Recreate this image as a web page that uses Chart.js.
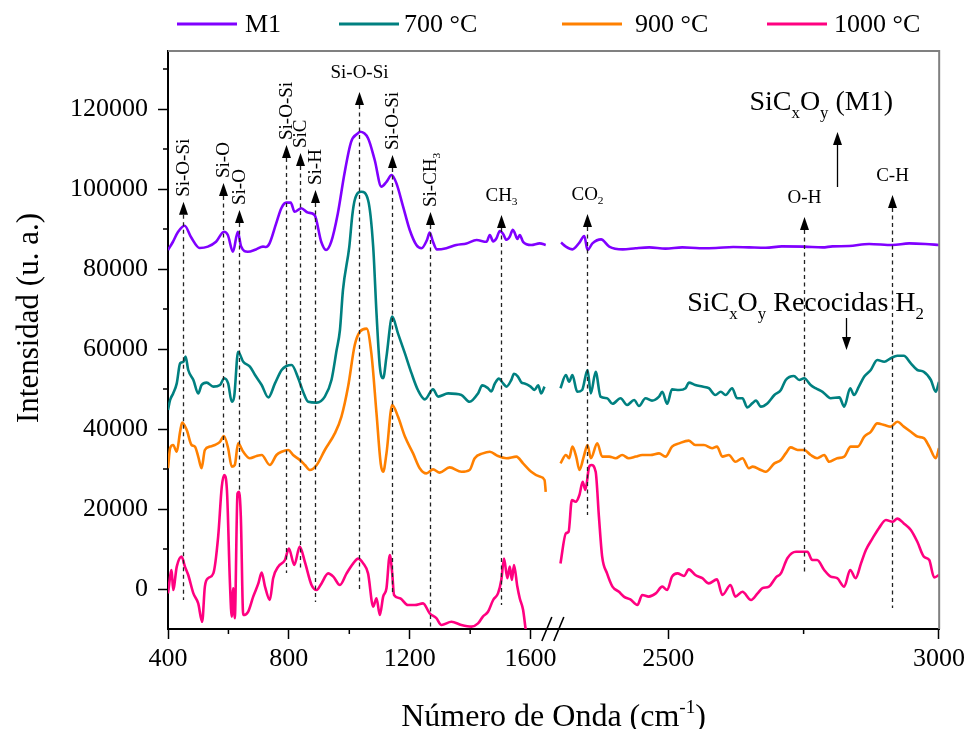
<!DOCTYPE html>
<html>
<head>
<meta charset="utf-8">
<title>FTIR SiCxOy</title>
<script src="https://cdn.jsdelivr.net/npm/chart.js@4.4.1/dist/chart.umd.min.js"></script>
<style>
  html, body { margin: 0; padding: 0; background: #fff; }
  canvas { display: block; }
</style>
</head>
<body>
<canvas id="chart" width="970" height="729"></canvas>
<script>
const SERIF = "'Liberation Serif', 'Times New Roman', serif";

// --- data (wavenumber in cm-1, intensity in a.u.) ---
const seriesNames = ['M1', '700 °C', '900 °C', '1000 °C'];
const seriesColors = ['#8000ff', '#008080', '#ff8000', '#ff0080'];

const m1WnLeft = [400,416,433,455,476,505,532,559,585,598,615,631,642,664,691,714,724,736,758,775,791,806,819,841,863,885,907,923,940,962,984,1006,1028,1035,1062,1084,1106,1123,1140,1156,1178,1200,1222,1239,1257,1266,1277,1290,1321,1354,1388,1421,1454,1465,1476,1487,1498,1509,1520,1531,1541,1547,1556,1564,1575,1602,1630,1650];
const m1Left = [84750,86750,89250,90800,88000,85250,85600,86800,89300,88500,84300,89300,85600,84300,84900,85600,85500,86400,91400,95200,96600,96600,94300,95200,94100,93500,86800,84750,86800,93900,103900,111800,113900,114300,112700,107250,100600,101800,103500,101400,95600,89750,86000,85200,87250,89100,86800,84900,85200,86000,86400,87250,86800,88500,86900,87700,89500,88750,87300,88100,89800,89100,87500,88500,86800,86000,86400,86000];
const m1WnRight = [2302,2311,2323,2336,2345,2351,2360,2376,2391,2416,2440,2465,2495,2526,2558,2588,2620,2649,2680,2710,2751,2785,2803,2834,2871,2914,2945,2975,3000];
const m1Right = [86600,85600,84900,86600,88250,84750,86400,87400,85600,84900,85200,85400,85100,85400,85200,85250,85500,85400,85300,85650,85600,85400,85650,85750,86250,86000,86400,86250,86000];

const t700WnLeft = [400,407,417,429,440,451,458,467,484,500,511,528,550,572,586,599,611,619,632,649,671,688,710,732,754,776,792,809,831,847,864,892,919,941,958,969,979,1000,1010,1018,1040,1062,1079,1090,1101,1112,1123,1142,1161,1184,1206,1227,1250,1277,1294,1327,1371,1398,1426,1440,1459,1470,1481,1495,1509,1520,1536,1545,1558,1570,1580,1600,1613,1625,1635,1646];
const t700Left = [44750,47250,48900,51400,56400,56800,58100,54750,52250,48900,51000,51600,50600,51000,52700,51400,46800,48100,59300,56800,55600,53500,51000,47900,51400,54750,55750,56000,52700,49300,46800,46600,48100,52250,59750,64750,74750,85600,93500,97250,99300,97250,85600,68900,55600,52700,58100,68100,63900,58900,53900,49750,47400,49900,48100,48900,48500,46800,48900,50900,50200,49400,51250,52600,51400,50600,52250,53800,53100,51600,51400,50600,49750,50900,48900,50600];
const t700WnRight = [2301,2311,2317,2323,2332,2341,2351,2357,2366,2375,2387,2397,2412,2424,2437,2446,2458,2470,2483,2489,2498,2507,2520,2532,2538,2550,2563,2575,2587,2597,2606,2618,2627,2637,2646,2655,2662,2671,2683,2696,2708,2717,2732,2742,2751,2763,2772,2785,2800,2816,2825,2836,2843,2852,2862,2874,2886,2899,2911,2923,2935,2948,2960,2972,2985,2994,3000];
const t700Right = [50200,53500,51800,53500,49300,49750,54750,48900,54300,48100,47700,46300,47700,46000,47250,45750,47700,47100,48100,49300,46300,49900,49750,50200,51600,51000,50600,50200,48500,49300,48500,50200,47700,47700,45400,46400,47100,45600,46400,48500,49750,52250,53250,52250,52700,51000,50200,49300,47700,47900,45600,50200,48500,50600,53100,54750,57250,56800,57700,58300,58300,56400,54750,54300,52250,49300,51800];

const t900WnLeft = [400,407,417,429,440,447,462,478,489,500,511,522,539,555,572,585,599,611,621,632,649,671,693,710,737,759,776,798,814,836,853,869,892,919,952,974,996,1018,1035,1057,1073,1090,1104,1112,1123,1142,1161,1184,1211,1233,1255,1277,1299,1332,1371,1398,1415,1442,1465,1492,1520,1553,1575,1602,1630,1646,1650];
const t900Left = [30200,35200,36000,34300,39300,41600,39750,36000,35600,33100,30200,34750,35600,36000,36800,38250,35200,30600,31000,36400,34300,32700,33250,33500,31000,33500,34300,34750,33500,32250,31000,29750,31000,34750,38900,43100,50600,61000,64300,65100,58900,43900,31300,29300,33900,46000,43100,38100,33900,30200,28900,29900,29100,30400,29300,29750,32700,33900,34300,33250,32700,33100,31400,29300,28100,27250,24300];
const t900WnRight = [2301,2311,2317,2323,2330,2336,2344,2351,2357,2369,2378,2391,2403,2415,2427,2440,2452,2467,2483,2495,2507,2520,2538,2550,2566,2581,2590,2600,2612,2624,2637,2649,2656,2671,2680,2696,2708,2717,2726,2739,2751,2763,2775,2788,2797,2812,2825,2837,2850,2862,2874,2886,2899,2911,2923,2935,2948,2960,2972,2982,2994,3000];
const t900Right = [31400,33500,32700,35600,33100,29750,33100,36000,32700,36400,33100,33100,32700,33500,32700,33100,33500,33500,33900,33100,35600,36400,37100,36000,36000,35200,35600,33100,33500,31800,32700,30200,30600,29750,29300,31400,32250,33900,35400,34750,34750,33500,32700,33500,31800,32700,33100,35600,35600,38100,39300,41400,41000,40600,41800,40600,39300,38100,37700,35600,32700,35200];

const t1000WnLeft = [400,412,417,429,445,456,467,484,500,513,522,533,550,566,578,586,595,605,611,616,621,630,635,641,649,665,682,699,710,721,737,748,765,787,800,818,836,853,875,892,908,930,947,969,991,1013,1029,1046,1062,1079,1090,1101,1112,1123,1134,1142,1148,1167,1194,1217,1244,1266,1288,1305,1338,1371,1404,1426,1442,1459,1476,1492,1503,1512,1523,1531,1538,1545,1556,1564,1575,1583,1590];
const t1000Left = [-1100,4750,-250,5600,8100,5600,3500,-1100,-3600,-8200,600,2700,3900,13100,25600,28500,24750,1400,-6900,150,-7300,23900,24300,18100,-6500,-5700,-1900,1400,4100,600,-2750,2700,5600,7250,10100,6000,10600,6750,1000,-250,1400,3900,3100,1000,3900,6400,7600,6400,3900,-4400,-2300,-6500,-1900,200,8500,3900,-1500,-2300,-4000,-4000,-3600,-6100,-7300,-9000,-8200,-9000,-9400,-8600,-6900,-5700,-2750,-1100,2250,7600,2700,5600,2250,6000,600,-2300,-5200,-9800,-14000];
const t1000WnRight = [2301,2311,2316,2322,2329,2336,2342,2347,2354,2358,2366,2372,2378,2387,2397,2409,2418,2430,2443,2452,2464,2477,2489,2498,2507,2517,2529,2538,2550,2563,2575,2590,2600,2615,2624,2637,2653,2665,2674,2686,2699,2708,2720,2736,2748,2757,2766,2775,2788,2800,2812,2825,2836,2846,2856,2865,2877,2889,2902,2914,2923,2935,2948,2960,2972,2982,2991,3000];
const t1000Right = [6400,13900,14300,22250,21800,23500,26800,24750,30600,31000,29300,18100,8100,3900,600,-700,-1900,-2600,-4000,-1500,-1900,-1100,600,-250,3100,3900,3250,4900,3500,2700,1400,2400,-1500,1000,-1900,-700,-2750,-1100,200,600,2900,3900,7700,9300,9300,9300,7250,7250,4750,3100,2700,600,4750,2700,6400,9750,12600,15200,17250,16800,17600,16400,14750,11800,8100,7250,2900,3500];

const xTickValues = [400, 800, 1200, 1600, 2500, 3000];
const xMinorTicks = [600, 1000, 1400, 2750];
const yTickValues = [0, 20000, 40000, 60000, 80000, 100000, 120000];
const yMinorTicks = [10000, 30000, 50000, 70000, 90000, 110000, 130000];

// band assignments: wavenumber, arrow tip / line end (intensity), label, rotated?
const bands = [
  { wn: 450,  tip: 96800,  end: -2750,  label: 'Si-O-Si', rot: true },
  { wn: 582,  tip: 101500, end: 29000,  label: 'Si-O',    rot: true },
  { wn: 635,  tip: 94750,  end: 24750,  label: 'Si-O',    rot: true },
  { wn: 790,  tip: 111000, end: 4000,   label: 'Si-O-Si', rot: true },
  { wn: 836,  tip: 109000, end: 4750,   label: 'SiC',     rot: true },
  { wn: 886,  tip: 99750,  end: -3250,  label: 'Si-H',    rot: true },
  { wn: 1031, tip: 124250, end: -250,   label: 'Si-O-Si', rot: false },
  { wn: 1142, tip: 108500, end: -1000,  label: 'Si-O-Si', rot: true },
  { wn: 1266, tip: 94250,  end: -10000, label: 'Si-CH_3', rot: true },
  { wn: 1503, tip: 93500,  end: -4000,  label: 'CH_3',    rot: false },
  { wn: 2350, tip: 93750,  end: 18500,  label: 'CO_2',    rot: false },
  { wn: 2751, tip: 93000,  end: 4000,   label: 'O-H',     rot: false },
  { wn: 2913, tip: 98500,  end: -4750,  label: 'C-H',     rot: false }
];
// group captions with their pointer arrows
const captions = [
  { text: 'SiC_xO_y (M1)',            wn: 2650, base: 119750, arrowWn: 2812, from: 100500, to: 114250 },
  { text: 'SiC_xO_y Recocidas H_2',   wn: 2535, base: 69500,  arrowWn: 2828, from: 67750,  to: 59750 }
];

// --- broken wavenumber axis ---
const BREAK_FROM = 1650, BREAK_TO = 2300, BREAK_GAP = 47, RIGHT_STRETCH = 1.792;
function axisPos(wn) {
  return wn <= BREAK_FROM ? wn : BREAK_FROM + BREAK_GAP + (wn - BREAK_TO) * RIGHT_STRETCH;
}

function joinSections(wnL, vL, wnR, vR) {
  const pts = wnL.map((w, i) => ({ x: axisPos(w), y: vL[i] }));
  pts.push({ x: BREAK_FROM + BREAK_GAP / 2, y: null });
  wnR.forEach((w, i) => pts.push({ x: axisPos(w), y: vR[i] }));
  return pts;
}

const seriesData = [
  joinSections(m1WnLeft, m1Left, m1WnRight, m1Right),
  joinSections(t700WnLeft, t700Left, t700WnRight, t700Right),
  joinSections(t900WnLeft, t900Left, t900WnRight, t900Right),
  joinSections(t1000WnLeft, t1000Left, t1000WnRight, t1000Right)
];

// --- text with sub/superscripts: "CO_2", "cm^{-1}" ---
function parseRich(str) {
  const parts = [];
  let buf = '';
  for (let i = 0; i < str.length; i++) {
    const c = str[i];
    if (c === '_' || c === '^') {
      if (buf) { parts.push({ t: buf, m: 0 }); buf = ''; }
      let t;
      if (str[i + 1] === '{') {
        const j = str.indexOf('}', i);
        t = str.slice(i + 2, j);
        i = j;
      } else {
        t = str[i + 1];
        i++;
      }
      parts.push({ t, m: c === '_' ? 1 : 2 });
    } else {
      buf += c;
    }
  }
  if (buf) parts.push({ t: buf, m: 0 });
  return parts;
}

function drawRich(ctx, str, x, y, size, align) {
  const parts = parseRich(str);
  const small = size * 0.6;
  let total = 0;
  parts.forEach(p => {
    ctx.font = `${p.m ? small : size}px ${SERIF}`;
    p.w = ctx.measureText(p.t).width;
    total += p.w;
  });
  let cx = align === 'center' ? x - total / 2 : x;
  ctx.textAlign = 'left';
  parts.forEach(p => {
    ctx.font = `${p.m ? small : size}px ${SERIF}`;
    const dy = p.m === 1 ? size * 0.3 : (p.m === 2 ? -size * 0.4 : 0);
    ctx.fillText(p.t, cx, y + dy);
    cx += p.w;
  });
}

function arrowHead(ctx, x, tipY, dir) {
  // dir = 1 points up, -1 points down
  ctx.beginPath();
  ctx.moveTo(x, tipY);
  ctx.lineTo(x - 4.5, tipY + 13 * dir);
  ctx.lineTo(x + 4.5, tipY + 13 * dir);
  ctx.closePath();
  ctx.fill();
}

const legendSlots = [[177, 245], [339, 404], [562, 635], [767, 834]];

const decor = {
  id: 'decor',
  afterDatasetsDraw(chart) {
    const { ctx, scales: { x, y } } = chart;
    ctx.save();
    ctx.fillStyle = '#000';
    bands.forEach(b => {
      const px = Math.round(x.getPixelForValue(axisPos(b.wn))) + 0.5;
      const tipY = y.getPixelForValue(b.tip);
      const endY = y.getPixelForValue(b.end);
      ctx.strokeStyle = '#222';
      ctx.lineWidth = 1.3;
      ctx.setLineDash([4, 3.5]);
      ctx.beginPath();
      ctx.moveTo(px, tipY + 13);
      ctx.lineTo(px, endY);
      ctx.stroke();
      ctx.setLineDash([]);
      arrowHead(ctx, px, tipY, 1);
      if (b.rot) {
        ctx.save();
        ctx.translate(px + 1, tipY - 5);
        ctx.rotate(-Math.PI / 2);
        ctx.textBaseline = 'middle';
        drawRich(ctx, b.label, 0, 0, 19, 'left');
        ctx.restore();
      } else {
        ctx.textBaseline = 'middle';
        drawRich(ctx, b.label, px, tipY - 19, 19, 'center');
      }
    });
    captions.forEach(c => {
      ctx.textBaseline = 'alphabetic';
      drawRich(ctx, c.text, x.getPixelForValue(axisPos(c.wn)), y.getPixelForValue(c.base), 28, 'left');
      const ax = Math.round(x.getPixelForValue(axisPos(c.arrowWn))) + 0.5;
      const y0 = y.getPixelForValue(c.from);
      const y1 = y.getPixelForValue(c.to);
      const dir = y1 < y0 ? 1 : -1;
      ctx.strokeStyle = '#000';
      ctx.lineWidth = 1.3;
      ctx.beginPath();
      ctx.moveTo(ax, y0);
      ctx.lineTo(ax, y1 + 10 * dir);
      ctx.stroke();
      arrowHead(ctx, ax, y1, dir);
    });
    ctx.restore();
  },
  afterDraw(chart) {
    const { ctx, chartArea: a, scales: { x, y } } = chart;
    ctx.save();
    // top and right frame
    ctx.strokeStyle = '#808080';
    ctx.lineWidth = 2;
    ctx.beginPath();
    ctx.moveTo(a.left, a.top);
    ctx.lineTo(a.right, a.top);
    ctx.lineTo(a.right, a.bottom);
    ctx.stroke();
    // minor ticks
    ctx.strokeStyle = '#000';
    ctx.lineWidth = 1.5;
    ctx.beginPath();
    xMinorTicks.forEach(v => {
      const px = x.getPixelForValue(axisPos(v));
      ctx.moveTo(px, a.bottom);
      ctx.lineTo(px, a.bottom + 5);
    });
    yMinorTicks.forEach(v => {
      const py = y.getPixelForValue(v);
      ctx.moveTo(a.left - 5, py);
      ctx.lineTo(a.left, py);
    });
    ctx.stroke();
    // axis break marks
    const mid = (x.getPixelForValue(BREAK_FROM) + x.getPixelForValue(axisPos(BREAK_TO))) / 2;
    ctx.lineWidth = 1.6;
    ctx.beginPath();
    [-6, 6].forEach(o => {
      ctx.moveTo(mid + o - 5, a.bottom + 12);
      ctx.lineTo(mid + o + 5, a.bottom - 12);
    });
    ctx.stroke();
    // axis titles
    ctx.fillStyle = '#000';
    ctx.textBaseline = 'alphabetic';
    drawRich(ctx, 'Número de Onda (cm^{-1})', (a.left + a.right) / 2, 726, 32, 'center');
    ctx.save();
    ctx.translate(30, 318);
    ctx.rotate(-Math.PI / 2);
    ctx.textBaseline = 'middle';
    drawRich(ctx, 'Intensidad (u. a.)', 0, 0, 31, 'center');
    ctx.restore();
    // legend
    chart.data.datasets.forEach((ds, i) => {
      const [lx, tx] = legendSlots[i];
      ctx.strokeStyle = ds.borderColor;
      ctx.lineWidth = 3;
      ctx.beginPath();
      ctx.moveTo(lx, 24);
      ctx.lineTo(lx + 60, 24);
      ctx.stroke();
      ctx.fillStyle = '#000';
      ctx.font = `26px ${SERIF}`;
      ctx.textAlign = 'left';
      ctx.textBaseline = 'middle';
      ctx.fillText(ds.label, tx, 25);
    });
    ctx.restore();
  }
};

new Chart(document.getElementById('chart'), {
  type: 'line',
  data: {
    datasets: seriesNames.map((name, i) => ({
      label: name,
      data: seriesData[i],
      borderColor: seriesColors[i],
      backgroundColor: seriesColors[i],
      borderWidth: 2.6,
      pointRadius: 0,
      cubicInterpolationMode: 'monotone',
      borderJoinStyle: 'round',
      spanGaps: false
    }))
  },
  options: {
    responsive: false,
    animation: false,
    devicePixelRatio: 1,
    layout: { padding: { top: 51, right: 30, bottom: 0, left: 0 } },
    plugins: {
      legend: { display: false },
      tooltip: { enabled: false }
    },
    scales: {
      x: {
        type: 'linear',
        min: 400,
        max: 2952,
        afterBuildTicks: s => { s.ticks = xTickValues.map(v => ({ value: axisPos(v) })); },
        ticks: {
          callback: (v, i) => String(xTickValues[i]),
          font: { family: SERIF, size: 26 },
          color: '#000',
          padding: 5,
          maxRotation: 0,
          autoSkip: false
        },
        grid: { drawOnChartArea: false, tickLength: 10, tickWidth: 1.5, color: '#000' },
        border: { color: '#000', width: 2 },
        afterFit: s => { s.height = 100; }
      },
      y: {
        min: -10000,
        max: 134500,
        afterBuildTicks: s => { s.ticks = yTickValues.map(v => ({ value: v })); },
        ticks: {
          callback: v => String(v),
          font: { family: SERIF, size: 26 },
          color: '#000',
          padding: 10
        },
        grid: { drawOnChartArea: false, tickLength: 10, tickWidth: 1.5, color: '#000' },
        border: { color: '#000', width: 2 },
        afterFit: s => { s.width = 168; }
      }
    }
  },
  plugins: [decor]
});
</script>
</body>
</html>
